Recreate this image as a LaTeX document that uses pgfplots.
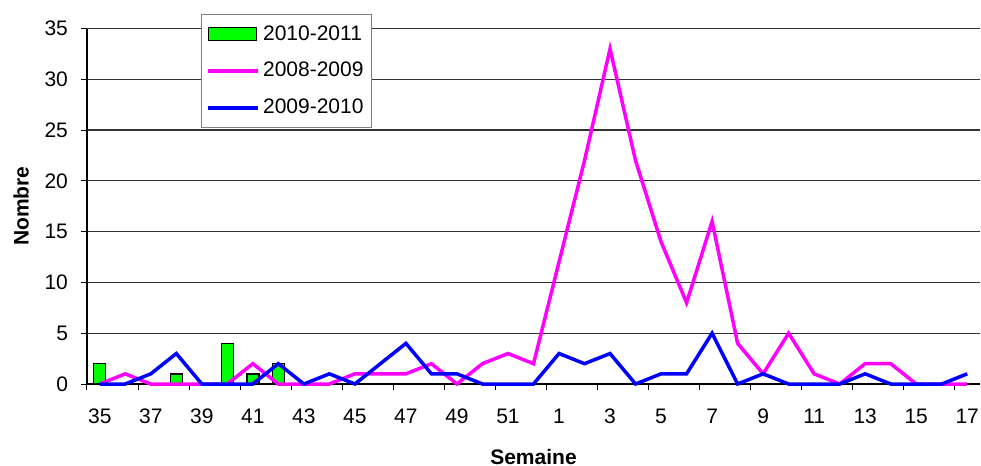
\documentclass[border=0pt]{standalone}
\usepackage{fontspec}
\setmainfont{Liberation Sans}
\usepackage{pgfplots}
\pgfplotsset{compat=1.18}
\definecolor{bargreen}{RGB}{0,255,0}
\definecolor{mymag}{RGB}{255,0,255}
\definecolor{myblue}{RGB}{0,0,255}
\definecolor{gridc}{RGB}{50,50,50}
\begin{document}
\begin{tikzpicture}
\path[use as bounding box] (-43.5pt,-41pt) rectangle (447pt,192pt);
\begin{axis}[
  scale only axis,
  width=446.5pt, height=177.75pt,
  xmin=-0.5, xmax=34.5,
  ymin=0, ymax=35,
  axis lines=left,
  axis line style={-, line width=0.6pt},
  tick align=outside,
  major tick length=3pt,
  tick style={line width=0.5pt, black},
  ytick={0,5,...,35},
  ymajorgrids,
  grid style={gridc, line width=0.6pt},
  xtick={-0.5,1.5,...,33.5},
  xticklabels={},
  extra x ticks={0,2,...,34},
  extra x tick labels={35,37,39,41,43,45,47,49,51,1,3,5,7,9,11,13,15,17},
  extra x tick style={major tick length=0pt, xticklabel style={yshift=-9pt}},
  font=\fontsize{10.5}{12}\selectfont,
  ticklabel style={font=\fontsize{10.5}{12}\selectfont},
  /pgf/number format/assume math mode=true,
  yticklabel style={xshift=-3pt},
  xlabel={\bfseries Semaine},
  ylabel={\bfseries Nombre},
  xlabel style={at={(axis description cs:0.5,0)}, anchor=north, yshift=-29pt},
  ylabel style={at={(axis description cs:0,0.5)}, anchor=south, rotate=0, yshift=25.5pt},
  legend style={at={(57pt,185pt)}, anchor=north west, draw=gray, fill=white,
    font=\fontsize{10.5}{12}\selectfont, row sep=6.6pt, inner xsep=2.6pt, inner ysep=4pt,
    nodes={inner sep=1.5pt}},
  legend cell align=left,
  bar width=6pt,
  clip=false,
]
\addplot[ybar, bar shift=0pt, fill=bargreen, draw=black, line width=0.7pt,
  legend image code/.code={\draw[fill=bargreen, draw=black, line width=0.7pt] (0pt,-3.25pt) rectangle (24pt,3.25pt);}]
  coordinates {(0,2) (3,1) (5,4) (6,1) (7,2)};
\addlegendentry{2010-2011}
\addplot[mymag, line width=1.75pt, mark=none,
  legend image code/.code={\draw[mymag, line width=1.75pt] (0pt,0pt) -- (25pt,0pt);}]
  coordinates {(0,0) (1,1) (2,0) (3,0) (4,0) (5,0) (6,2) (7,0) (8,0) (9,0) (10,1) (11,1) (12,1) (13,2) (14,0) (15,2) (16,3) (17,2) (18,12) (19,22) (20,33) (21,22) (22,14) (23,8) (24,16) (25,4) (26,1) (27,5) (28,1) (29,0) (30,2) (31,2) (32,0) (33,0) (34,0)};
\addlegendentry{2008-2009}
\addplot[myblue, line width=1.75pt, mark=none,
  legend image code/.code={\draw[myblue, line width=1.75pt] (0pt,0pt) -- (25pt,0pt);}]
  coordinates {(0,0) (1,0) (2,1) (3,3) (4,0) (5,0) (6,0) (7,2) (8,0) (9,1) (10,0) (11,2) (12,4) (13,1) (14,1) (15,0) (16,0) (17,0) (18,3) (19,2) (20,3) (21,0) (22,1) (23,1) (24,5) (25,0) (26,1) (27,0) (28,0) (29,0) (30,1) (31,0) (32,0) (33,0) (34,1)};
\addlegendentry{2009-2010}
\end{axis}
\end{tikzpicture}
\end{document}
